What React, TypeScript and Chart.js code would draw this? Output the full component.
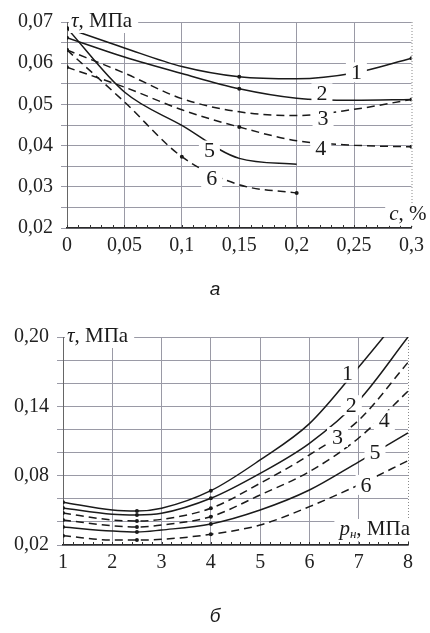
import React, { useEffect, useRef } from 'react';
import { Chart, registerables } from 'chart.js';
Chart.register(...registerables);

// ---------- Chart "а": τ vs c, % ----------
const TOP_X = [0, 0.05, 0.1, 0.15, 0.2, 0.25, 0.3];
const TOP_C1 = [0.0685, 0.0637, 0.0592, 0.0567, 0.0562, 0.0576, 0.0612];
const TOP_C2 = [0.0662, 0.0615, 0.0575, 0.0538, 0.0515, 0.051, 0.0512];
const TOP_C3 = [0.0632, 0.0576, 0.0514, 0.0482, 0.0473, 0.0488, 0.0512];
const TOP_C4 = [0.059, 0.0542, 0.0487, 0.0445, 0.0412, 0.0401, 0.0397];
const TOP_C5 = [0.0685, 0.053, 0.0449, 0.0369, 0.0355];
const TOP_C6 = [0.0632, 0.0506, 0.0373, 0.0305, 0.0285];
const TOP_MARKERS = [[0, 3, 6], [0, 3, 6], [0], [0, 3, 6], [0], [0, 2, 4]];
const TOP_X_TICK_LABELS = ['0', '0,05', '0,1', '0,15', '0,2', '0,25', '0,3'];
const TOP_Y_TICK_LABELS = ['0,02', '0,03', '0,04', '0,05', '0,06', '0,07'];
const TOP_CURVE_NAMES = ['1', '2', '3', '4', '5', '6'];
const TOP_NAME_X = [0.252, 0.222, 0.223, 0.221, 0.124, 0.126];
const TOP_NAME_Y = [0.0578, 0.0527, 0.0466, 0.0393, 0.0388, 0.032];

// ---------- Chart "б": τ vs pн, МПа ----------
const BOT_X = [1, 2, 2.5, 3, 4, 5, 6, 7, 8];
const BOT_C1 = [0.057, 0.0503, 0.0494, 0.0518, 0.067, 0.0936, 0.125, 0.174, 0.226];
const BOT_C2 = [0.052, 0.0466, 0.046, 0.0474, 0.0604, 0.082, 0.108, 0.145, 0.2];
const BOT_C3 = [0.0477, 0.0416, 0.0408, 0.0422, 0.0518, 0.0734, 0.098, 0.128, 0.178];
const BOT_C4 = [0.0416, 0.0367, 0.0356, 0.0373, 0.0445, 0.0633, 0.0835, 0.1126, 0.153];
const BOT_C5 = [0.0356, 0.0321, 0.0312, 0.033, 0.0382, 0.0503, 0.0676, 0.092, 0.117];
const BOT_C6 = [0.028, 0.0243, 0.0243, 0.0249, 0.0293, 0.0373, 0.0532, 0.072, 0.093];
const BOT_MARKERS = [[0, 2, 4], [0, 2, 4], [0, 2, 4], [0, 2, 4], [0, 2, 4], [0, 2, 4]];
const BOT_X_TICK_LABELS = ['1', '2', '3', '4', '5', '6', '7', '8'];
const BOT_Y_TICK_LABELS = ['0,02', '0,08', '0,14', '0,20'];
const BOT_CURVE_NAMES = ['1', '2', '3', '4', '5', '6'];
const BOT_NAME_X = [6.77, 6.85, 6.57, 7.52, 7.33, 7.15];
const BOT_NAME_Y = [0.169, 0.141, 0.1135, 0.128, 0.1005, 0.072];

const DASHED = [false, false, true, true, false, true];
const SERIF = "'Liberation Serif', 'DejaVu Serif', 'Times New Roman', Times, serif";
const GRID = '#9a9aa6';

type Spec = {
  xs: number[];
  series: number[][];
  markers: number[][];
  xMin: number; xMax: number; xStep: number;
  yMin: number; yMax: number; yStep: number;
  xTickLabel: (i: number) => string;
  yTickLabel: (i: number) => string;
  names: string[]; nameX: number[]; nameY: number[];
  yAxisWidth: number; rightPad: number; topPad: number; bottomPad: number;
  minorStep: number;
  xTitle: 'c' | 'p';
  xTitleY: number;
  caption: string; captionY: number;
};

function makeConfig(spec: Spec): any {
  const datasets = spec.series.map((vals, si) => ({
    label: spec.names[si],
    data: vals.map((v, i) => ({ x: spec.xs[i], y: v })),
    borderColor: '#1a1a1a',
    backgroundColor: '#1a1a1a',
    borderWidth: 1.5,
    borderDash: DASHED[si] ? [8, 5] : [],
    cubicInterpolationMode: 'monotone',
    fill: false,
    pointRadius: (ctx: any) => (spec.markers[si].includes(ctx.dataIndex) ? 2 : 0),
    pointBackgroundColor: '#1a1a1a',
    pointBorderWidth: 0,
  }));

  const decor = {
    id: 'decor',
    afterDatasetsDraw(chart: any) {
      const { ctx, chartArea: a, scales } = chart;
      const xs = scales.x, ys = scales.y;
      ctx.save();
      ctx.strokeStyle = '#8a8a8a';
      ctx.lineWidth = 1;
      ctx.setLineDash([1, 2]);
      ctx.beginPath();
      ctx.moveTo(a.right + 0.5, a.top);
      ctx.lineTo(a.right + 0.5, a.bottom);
      ctx.stroke();
      ctx.setLineDash([]);
      ctx.strokeStyle = '#333';
      ctx.beginPath();
      const n = Math.round((spec.xMax - spec.xMin) / spec.minorStep);
      for (let i = 0; i <= n; i++) {
        const px = Math.round(xs.getPixelForValue(spec.xMin + i * spec.minorStep)) + 0.5;
        ctx.moveTo(px, a.bottom);
        ctx.lineTo(px, a.bottom - 3);
      }
      ctx.stroke();

      ctx.font = `22px ${SERIF}`;
      ctx.textAlign = 'center';
      ctx.textBaseline = 'middle';
      spec.names.forEach((t, i) => {
        const px = xs.getPixelForValue(spec.nameX[i]);
        const py = ys.getPixelForValue(spec.nameY[i]);
        const w = ctx.measureText(t).width;
        ctx.fillStyle = '#fff';
        ctx.fillRect(px - w / 2 - 5, py - 10, w + 10, 20);
        ctx.fillStyle = '#1a1a1a';
        ctx.fillText(t, px, py + 1);
      });

      ctx.textAlign = 'left';
      ctx.textBaseline = 'middle';
      const x0 = a.left + 4;
      const ty = a.top - 1;
      ctx.font = `italic 21px ${SERIF}`;
      const wTau = ctx.measureText('τ').width;
      ctx.font = `21px ${SERIF}`;
      const wRest = ctx.measureText(', МПа').width;
      ctx.fillStyle = '#fff';
      ctx.fillRect(a.left + 2, ty - 12, wTau + wRest + 8, 24);
      ctx.fillStyle = '#1a1a1a';
      ctx.font = `italic 21px ${SERIF}`;
      ctx.fillText('τ', x0, ty);
      ctx.font = `21px ${SERIF}`;
      ctx.fillText(', МПа', x0 + wTau, ty);

      const yy = ys.getPixelForValue(spec.xTitleY);
      if (spec.xTitle === 'c') {
        ctx.font = `italic 21px ${SERIF}`;
        const wc = ctx.measureText('c').width;
        ctx.font = `21px ${SERIF}`;
        const wr = ctx.measureText(', %').width;
        const right = a.right + 15;
        const sx = right - wc - wr;
        ctx.fillStyle = '#fff';
        ctx.fillRect(sx - 4, yy - 11, wc + wr + 6, 22);
        ctx.fillStyle = '#1a1a1a';
        ctx.font = `italic 21px ${SERIF}`;
        ctx.fillText('c', sx, yy);
        ctx.font = `21px ${SERIF}`;
        ctx.fillText(', %', sx + wc, yy);
      } else {
        ctx.font = `italic 21px ${SERIF}`;
        const wp = ctx.measureText('p').width;
        ctx.font = `italic 13px ${SERIF}`;
        const wn = ctx.measureText('н').width;
        ctx.font = `21px ${SERIF}`;
        const wr = ctx.measureText(', МПа').width;
        const right = a.right + 2;
        const sx = right - wp - wn - wr;
        ctx.fillStyle = '#fff';
        ctx.fillRect(sx - 5, yy - 11, wp + wn + wr + 6, 22);
        ctx.fillStyle = '#1a1a1a';
        ctx.font = `italic 21px ${SERIF}`;
        ctx.fillText('p', sx, yy);
        ctx.font = `italic 13px ${SERIF}`;
        ctx.fillText('н', sx + wp, yy + 5);
        ctx.font = `21px ${SERIF}`;
        ctx.fillText(', МПа', sx + wp + wn, yy);
      }

      ctx.font = `italic 19px 'Liberation Sans', Arial, sans-serif`;
      ctx.textAlign = 'center';
      ctx.fillStyle = '#1a1a1a';
      ctx.fillText(spec.caption, 215, spec.captionY);
      ctx.restore();
    },
  };

  return {
    type: 'line',
    data: { datasets },
    plugins: [decor],
    options: {
      animation: false,
      responsive: false,
      maintainAspectRatio: false,
      layout: { padding: { left: 0, right: spec.rightPad, top: spec.topPad, bottom: spec.bottomPad } },
      plugins: { legend: { display: false }, tooltip: { enabled: false }, title: { display: false } },
      scales: {
        x: {
          type: 'linear',
          min: spec.xMin,
          max: spec.xMax,
          afterFit: (s: any) => { s.height = 42; },
          afterBuildTicks: (s: any) => {
            const t = [];
            const n = Math.round((spec.xMax - spec.xMin) / spec.xStep);
            for (let i = 0; i <= n; i++) t.push({ value: spec.xMin + i * spec.xStep });
            s.ticks = t;
          },
          ticks: {
            autoSkip: false,
            maxRotation: 0,
            padding: 6,
            color: '#222',
            font: { family: SERIF, size: 20 },
            callback: (_v: any, i: number) => spec.xTickLabel(i),
          },
          grid: {
            drawTicks: false,
            color: (c: any) => (c.index === 0 || c.tick?.value >= spec.xMax - 1e-9 ? 'rgba(0,0,0,0)' : GRID),
            lineWidth: 1,
          },
          border: { display: true, color: '#2a2a2a', width: 1.6 },
        },
        y: {
          type: 'linear',
          min: spec.yMin,
          max: spec.yMax,
          afterFit: (s: any) => { s.width = spec.yAxisWidth; },
          afterBuildTicks: (s: any) => {
            const t = [];
            const n = Math.round((spec.yMax - spec.yMin) / spec.yStep);
            for (let i = 0; i <= n; i++) t.push({ value: spec.yMin + i * spec.yStep });
            s.ticks = t;
          },
          ticks: {
            autoSkip: false,
            padding: 8,
            color: '#222',
            font: { family: SERIF, size: 20 },
            callback: (_v: any, i: number) => spec.yTickLabel(i),
          },
          grid: { drawTicks: true, tickLength: 6, color: GRID, lineWidth: 1 },
          border: { display: true, color: '#666', width: 1 },
        },
      },
    },
  };
}

const TOP_SPEC: Spec = {
  xs: TOP_X,
  series: [TOP_C1, TOP_C2, TOP_C3, TOP_C4, TOP_C5, TOP_C6],
  markers: TOP_MARKERS,
  xMin: 0, xMax: 0.3, xStep: 0.05,
  yMin: 0.02, yMax: 0.07, yStep: 0.005,
  xTickLabel: (i) => TOP_X_TICK_LABELS[i] ?? '',
  yTickLabel: (i) => (i % 2 === 0 ? TOP_Y_TICK_LABELS[i / 2] ?? '' : ''),
  names: TOP_CURVE_NAMES, nameX: TOP_NAME_X, nameY: TOP_NAME_Y,
  yAxisWidth: 67, rightPad: 18, topPad: 22, bottomPad: 35,
  minorStep: 0.01,
  xTitle: 'c',
  xTitleY: 0.0232,
  caption: 'а', captionY: 290,
};

const BOT_SPEC: Spec = {
  xs: BOT_X,
  series: [BOT_C1, BOT_C2, BOT_C3, BOT_C4, BOT_C5, BOT_C6],
  markers: BOT_MARKERS,
  xMin: 1, xMax: 8, xStep: 1,
  yMin: 0.02, yMax: 0.2, yStep: 0.02,
  xTickLabel: (i) => BOT_X_TICK_LABELS[i] ?? '',
  yTickLabel: (i) => (i % 3 === 0 ? BOT_Y_TICK_LABELS[i / 3] ?? '' : ''),
  names: BOT_CURVE_NAMES, nameX: BOT_NAME_X, nameY: BOT_NAME_Y,
  yAxisWidth: 63, rightPad: 22, topPad: 27, bottomPad: 46,
  minorStep: 0.2,
  xTitle: 'p',
  xTitleY: 0.033,
  caption: 'б', captionY: 307,
};

function ChartCanvas({ spec, top, height }: { spec: Spec; top: number; height: number }) {
  const ref = useRef<HTMLCanvasElement>(null);
  useEffect(() => {
    if (!ref.current) return;
    const chart = new Chart(ref.current, makeConfig(spec));
    let alive = true;
    const redraw = () => { if (alive) chart.update('none'); };
    const fonts: any = (document as any).fonts;
    if (fonts && fonts.load) {
      Promise.all([
        fonts.load(`20px 'Liberation Serif'`),
        fonts.load(`italic 21px 'Liberation Serif'`),
        fonts.load(`italic 19px 'Liberation Sans'`),
      ]).then(redraw).catch(() => {});
      fonts.ready.then(redraw);
    }
    const t = setTimeout(redraw, 150);
    return () => { alive = false; clearTimeout(t); chart.destroy(); };
  }, [spec]);
  return (
    <canvas
      ref={ref}
      width={430}
      height={height}
      style={{ position: 'absolute', left: 0, top, width: 430, height }}
    />
  );
}

export default function App() {
  return (
    <div style={{ position: 'absolute', left: 0, top: 0, width: 430, height: 633, background: '#fff' }}>
      <span style={{ position: 'absolute', left: -9999, top: 0, fontFamily: SERIF }}>
        0,07 <i>τ</i> МПа
      </span>
      <span style={{ position: 'absolute', left: -9999, top: 20, fontFamily: "'Liberation Sans'", fontStyle: 'italic' }}>
        а б
      </span>
      <ChartCanvas spec={TOP_SPEC} top={0} height={305} />
      <ChartCanvas spec={BOT_SPEC} top={310} height={323} />
    </div>
  );
}
